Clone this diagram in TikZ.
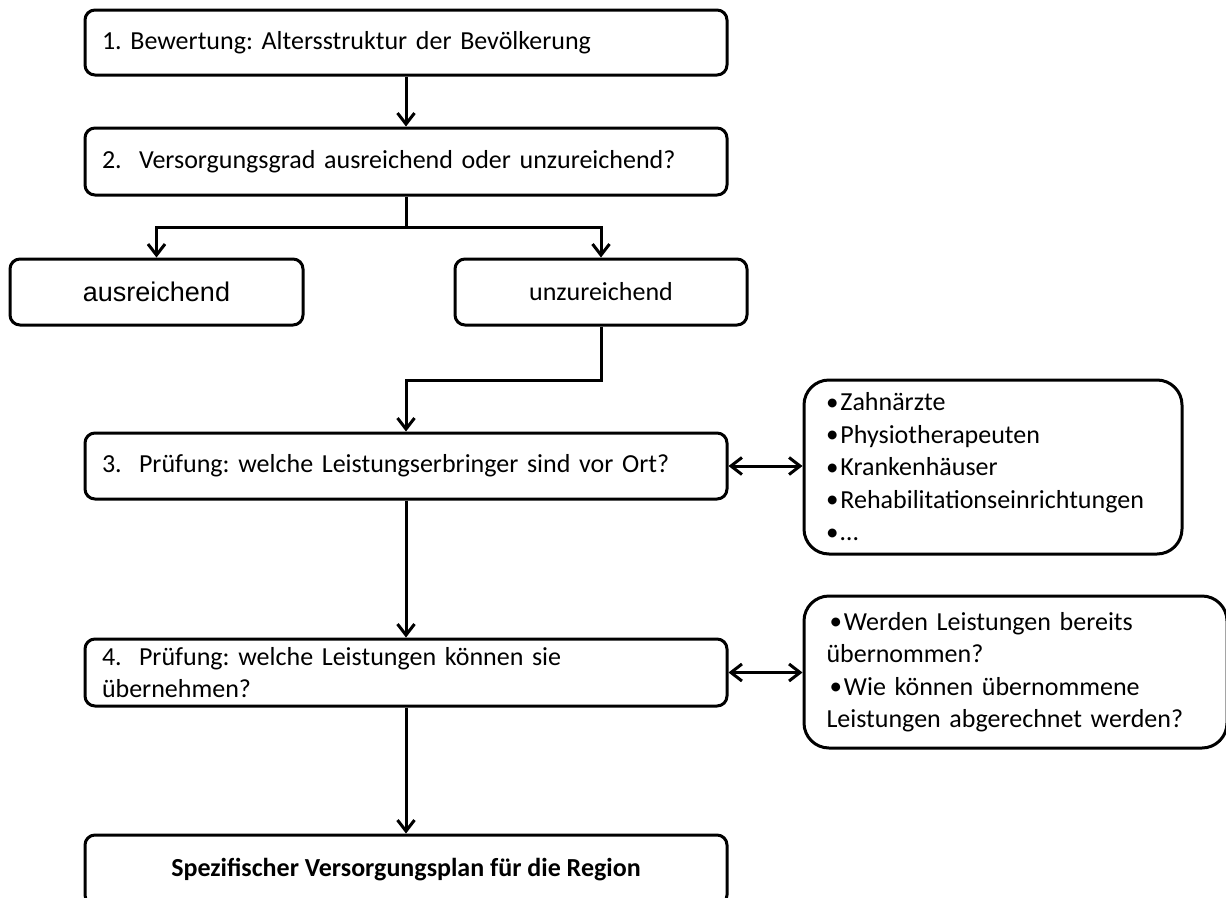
\documentclass[tikz,border=0pt]{standalone}
\usepackage{fontspec}
\setmainfont{Carlito}
\newfontfamily\arialfont{Liberation Sans}
\usetikzlibrary{arrows.meta}
\newcommand{\mybul}{\raisebox{0.5pt}{\fontsize{25}{25}\selectfont•}\hspace{2pt}}
\begin{document}
\frenchspacing
\begin{tikzpicture}[x=1pt,y=-1pt,
  box/.style={draw=black, line width=3pt, rounded corners=10pt, inner sep=0pt,
              font=\frenchspacing\fontsize{26}{32}\selectfont},
  leftbox/.style={box, align=left, inner xsep=17pt},
  sidebox/.style={draw=black, line width=3pt, rounded corners=25pt, inner sep=0pt,
              font=\frenchspacing\fontsize{26}{32.5}\selectfont, align=left},
  arr/.style={line width=3pt, -{Straight Barb[length=11pt,width=17pt,line width=3pt]}},
  darr/.style={line width=3pt, {Straight Barb[length=11pt,width=17pt,line width=3pt]}-{Straight Barb[length=11pt,width=17pt,line width=3pt]}}
]
\useasboundingbox (0,0) rectangle (1226,897);

% main column
\node[leftbox, text width=608pt, minimum height=65pt] (b1) at (406,42.5)
  {1. Bewertung: Altersstruktur der Bevölkerung};
\node[leftbox, text width=608pt, minimum height=67pt] (b2) at (406,161.5)
  {2.\ \ Versorgungsgrad ausreichend oder unzureichend?};
\node[box, minimum width=293pt, minimum height=66pt, font=\arialfont\fontsize{27}{32}\selectfont] (aus) at (156.5,292)
  {ausreichend};
\node[box, minimum width=292pt, minimum height=66pt] (unz) at (601,292)
  {unzureichend};
\node[leftbox, text width=608pt, minimum height=66pt] (b3) at (406,466)
  {3.\ \ Prüfung: welche Leistungserbringer sind vor Ort?};
\node[leftbox, text width=608pt, minimum height=67pt] (b4) at (406,672.5)
  {4.\ \ Prüfung: welche Leistungen können sie\\übernehmen?};
\node[box, minimum width=642pt, minimum height=70pt, font=\bfseries\fontsize{26}{32}\selectfont] (b5) at (406,870)
  {Spezifischer Versorgungsplan für die Region};

% side boxes
\node[sidebox, minimum width=378pt, minimum height=174pt, text width=334pt] (sa) at (993,467)
  {\mybul Zahnärzte\\\mybul Physiotherapeuten\\\mybul Krankenhäuser\\\mybul Rehabilitationseinrichtungen\\\mybul …};
\node[sidebox, minimum width=423pt, minimum height=152pt, text width=378pt] (sb) at (1015.5,672)
  {\hspace*{3pt}\mybul Werden Leistungen bereits\\übernommen?\\\hspace*{3pt}\mybul Wie können übernommene\\Leistungen abgerechnet werden?};

% connectors
\coordinate (fork) at (406,227);
\coordinate (bend) at (601,380);
\draw[arr] (b1.south) -- (b2.north);
\draw[line width=3pt] (b2.south) -- (fork);
\draw[arr] (fork) -| (aus.north);
\draw[arr] (fork) -| (unz.north);
\draw[arr] (unz.south) -- (bend) -| (b3.north);
\draw[arr] (b3.south) -- (b4.north);
\draw[arr] (b4.south) -- (b5.north);
\draw[darr] (b3.east) -- (sa.west |- b3.east);
\draw[darr] (b4.east) -- (sb.west |- b4.east);
\end{tikzpicture}
\end{document}
